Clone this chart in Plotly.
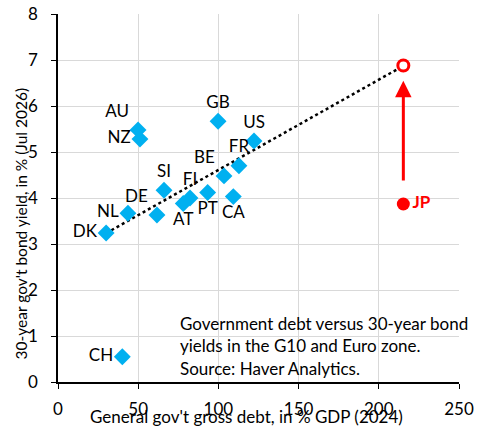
import numpy as np
import plotly.graph_objects as go

# debt (% GDP, 2024) and 30y yields
countries = ['DK', 'NL', 'DE', 'SI', 'AU', 'NZ', 'GB', 'US', 'FR', 'BE',
             'FI', 'AT', 'PT', 'CA', 'CH']
debt = [30.0, 43.6, 61.7, 66.1, 49.9, 51.1, 99.8, 122.2, 112.8, 103.5,
        82.3, 78.1, 93.3, 109.3, 40.1]
yield30 = [3.24, 3.67, 3.63, 4.17, 5.48, 5.28, 5.67, 5.24, 4.70, 4.48,
           4.00, 3.88, 4.12, 4.03, 0.55]
label_pos = ['middle left', 'middle left', 'top left', 'top center', 'top left',
             'middle left', 'top center', 'top center', 'top center', 'top left',
             'top center', 'bottom center', 'bottom center', 'bottom center', 'middle left']

jp_debt = 215.3
jp_yield = 3.87
jp_implied = 6.88  # where JP would sit on the trend

note_lines = ['Government debt versus 30-year bond',
              'yields in the G10 and Euro zone.',
              'Source: Haver Analytics.']

FONT = 'Lato'
BLUE = '#00B0F0'
RED = '#FF0000'
FS = 17

# linear trend through the countries plus JP's implied yield
fit_x = np.array(debt + [jp_debt])
fit_y = np.array(yield30 + [jp_implied])
slope, icpt = np.polyfit(fit_x, fit_y, 1)
trend_x = np.array([fit_x.min(), fit_x.max()])
trend_y = slope * trend_x + icpt

fig = go.Figure()

fig.add_trace(go.Scatter(
    x=trend_x, y=trend_y, mode='lines',
    line=dict(color='black', width=2.5, dash='dot'),
    hoverinfo='skip', showlegend=False
))

fig.add_trace(go.Scatter(
    x=debt, y=yield30, mode='markers+text',
    text=countries, textposition=label_pos,
    textfont=dict(family=FONT, size=FS, color='black'),
    marker=dict(symbol='diamond', size=13, color=BLUE),
    showlegend=False
))

fig.add_trace(go.Scatter(
    x=[jp_debt], y=[jp_yield], mode='markers+text',
    text=['<b>JP</b>'], textposition='middle right',
    textfont=dict(family=FONT, size=FS, color=RED),
    marker=dict(symbol='circle', size=13, color=RED),
    showlegend=False
))

fig.add_trace(go.Scatter(
    x=[jp_debt], y=[jp_implied], mode='markers',
    marker=dict(symbol='circle', size=11, color='white',
                line=dict(color=RED, width=3)),
    showlegend=False
))

# arrow from actual JP yield up toward the implied one
fig.add_annotation(
    x=jp_debt, y=6.55, ax=jp_debt, ay=4.35,
    xref='x', yref='y', axref='x', ayref='y',
    showarrow=True, arrowhead=2, arrowsize=1.1, arrowwidth=3,
    arrowcolor=RED, text=''
)

for i, line in enumerate(note_lines):
    fig.add_annotation(
        x=74.8, y=1.28 - i * 0.49, xref='x', yref='y',
        text=line, showarrow=False, xanchor='left', yanchor='middle',
        font=dict(family=FONT, size=FS, color='black')
    )

# axis titles as annotations so they sit where the original has them
fig.add_annotation(
    x=0.469, y=-0.095, xref='paper', yref='paper',
    text="General gov't gross debt, in % GDP (2024)", showarrow=False,
    xanchor='center', yanchor='middle',
    font=dict(family=FONT, size=FS, color='black')
)
fig.add_annotation(
    x=-0.093, y=0.43, xref='paper', yref='paper', textangle=-90,
    text="30-year gov't bond yield, in % (Jul 2026)", showarrow=False,
    xanchor='center', yanchor='middle',
    font=dict(family=FONT, size=15.5, color='black')
)

fig.update_xaxes(
    range=[0, 250], dtick=50, showgrid=True, gridcolor='#d9d9d9', gridwidth=1,
    showline=True, linecolor='black', linewidth=1.5,
    ticks='outside', ticklen=5, tickcolor='black', ticklabelstandoff=6,
    tickfont=dict(family=FONT, size=FS, color='black'), zeroline=False
)
fig.update_yaxes(
    range=[0, 8], dtick=1, showgrid=True, gridcolor='#d9d9d9', gridwidth=1,
    showline=True, linecolor='black', linewidth=1.5,
    ticks='outside', ticklen=5, tickcolor='black', ticklabelstandoff=10,
    tickfont=dict(family=FONT, size=FS, color='black'), zeroline=False
)

fig.update_layout(
    width=480, height=431,
    margin=dict(l=58, r=21, t=14, b=49, autoexpand=False),
    plot_bgcolor='white', paper_bgcolor='white',
    showlegend=False
)

# drop the browser's default 8px body margin
fig.write_html('out.html', config={'displayModeBar': False},
               post_script="document.body.style.margin='0px';")
